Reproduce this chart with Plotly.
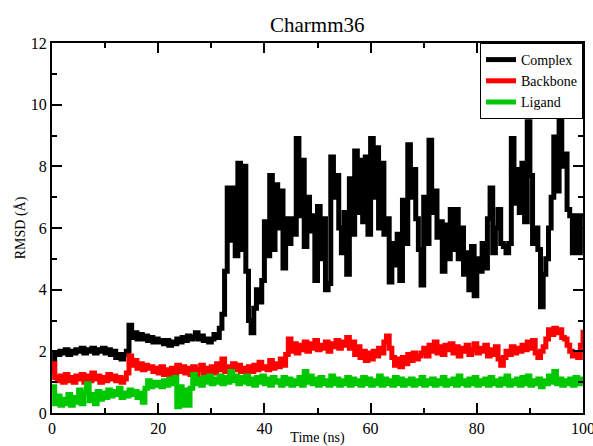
import plotly.graph_objects as go

# Simulation time grid (ns), sampled every 0.5 ns
time_ns = [i * 0.5 for i in range(201)]

# RMSD of the protein-ligand complex (Å)
complex_rmsd = [
    1.35, 1.95, 1.9, 2.0, 1.95, 2.05, 1.9, 2.0, 1.95, 2.05,
    2.0, 2.1, 1.95, 2.05, 2.0, 2.1, 1.95, 2.05, 2.0, 2.1,
    1.95, 2.05, 1.9, 2.0, 1.8, 1.9, 1.75, 1.9, 2.0, 2.85,
    2.45, 2.6, 2.4, 2.55, 2.4, 2.5, 2.35, 2.45, 2.3, 2.4,
    2.3, 2.35, 2.25, 2.35, 2.2, 2.3, 2.25, 2.4, 2.3, 2.45,
    2.35, 2.5, 2.4, 2.45, 2.6, 2.4, 2.5, 2.35, 2.4, 2.3,
    2.4, 2.55, 2.45, 2.75, 3.2, 4.6, 7.3, 5.6, 7.3, 5.1,
    8.1, 5.3, 8.0, 4.6, 3.0, 2.6, 3.4, 4.0, 3.6, 4.3,
    6.2, 5.1, 7.7, 5.3, 7.4, 6.0, 7.2, 4.7, 6.3, 5.5,
    6.3, 5.8, 8.9, 6.4, 8.2, 5.4, 7.0, 5.9, 6.4, 4.3,
    6.7, 5.0, 6.3, 4.0, 4.2, 8.3, 7.0, 7.7, 6.0, 5.2,
    6.5, 4.5, 7.6, 5.8, 8.5, 6.5, 8.2, 6.2, 8.3, 5.8,
    8.9, 7.0, 8.6, 6.0, 8.1, 5.8, 6.3, 4.25, 5.5, 4.8,
    5.8, 4.3, 6.9, 5.5, 8.7, 7.0, 7.9, 6.3, 5.3, 4.15,
    7.0, 5.5, 8.85, 6.5, 7.2, 5.7, 6.2, 4.6, 6.1, 5.0,
    6.6, 5.3, 6.6, 5.0, 6.0, 4.5, 5.2, 4.0, 5.4, 3.8,
    5.0, 4.6, 5.5, 4.7, 6.3, 7.3, 5.2, 6.0, 6.6, 5.5,
    5.4, 5.2, 5.5, 8.9, 6.8, 7.9, 6.5, 8.1, 6.2, 9.45,
    7.7, 5.5, 6.0, 5.3, 3.45, 4.5, 5.0, 6.0, 7.0, 8.95,
    7.2, 9.5, 8.0, 8.4, 6.6, 6.4, 5.2, 6.4, 5.2, 6.4,
    6.4,
]

# RMSD of the protein backbone (Å)
backbone_rmsd = [
    1.6, 1.15, 1.05, 1.2, 1.0, 1.25, 1.05, 1.15, 1.0, 1.2,
    1.1, 1.25, 1.0, 1.2, 1.05, 1.3, 1.1, 1.2, 1.0, 1.15,
    1.05, 1.25, 1.1, 1.2, 1.05, 1.15, 1.0, 1.1, 1.3, 1.85,
    1.55, 1.7, 1.45, 1.6, 1.4, 1.55, 1.45, 1.5, 1.35, 1.45,
    1.3, 1.5, 1.25, 1.4, 1.2, 1.45, 1.3, 1.55, 1.35, 1.5,
    1.3, 1.45, 1.25, 1.5, 1.2, 1.4, 1.55, 1.3, 1.45, 1.35,
    1.5, 1.3, 1.6, 1.4, 1.75, 1.35, 1.5, 1.3, 1.6, 1.4,
    1.55, 1.35, 1.45, 1.3, 1.5, 1.35, 1.55, 1.4, 1.65, 1.45,
    1.5, 1.4, 1.7, 1.45, 1.6, 1.5, 1.75, 1.55, 1.9, 2.4,
    2.0, 2.25, 1.95, 2.2, 2.05, 2.3, 2.0, 2.25, 2.1, 2.35,
    2.05, 2.2, 2.1, 2.3, 2.0, 2.25, 2.15, 2.35, 2.1, 2.3,
    2.2, 2.45, 2.1, 2.3, 1.9, 2.15, 1.8, 2.0, 1.7, 1.95,
    1.75, 2.0, 1.85, 2.1, 1.95, 2.3, 2.5, 2.1, 1.8, 1.55,
    1.75, 1.5, 1.8, 1.6, 1.9, 1.7, 1.95, 1.75, 1.85, 1.95,
    2.1, 1.85, 2.2, 2.0, 2.3, 1.95, 2.15, 1.9, 2.2, 2.05,
    2.25, 1.95, 2.15, 1.85, 2.1, 2.0, 2.2, 1.9, 2.05, 2.25,
    1.95, 2.1, 2.0, 2.2, 1.85, 2.05, 1.9, 2.15, 1.75, 1.55,
    1.8, 2.0, 1.9, 2.15, 1.95, 2.1, 2.0, 2.2, 2.05, 2.3,
    2.1, 2.35, 1.95, 1.8, 2.0, 2.15, 2.4, 2.7, 2.55, 2.75,
    2.6, 2.7, 2.45, 2.4, 2.2, 2.0, 1.85, 1.95, 1.8, 2.2,
    2.7,
]

# RMSD of the ligand (Å)
ligand_rmsd = [
    0.85, 0.3, 0.55, 0.25, 0.45, 0.3, 0.6, 0.25, 0.5, 0.35,
    0.75, 0.3, 0.65, 0.95, 0.4, 0.6, 0.3, 0.7, 0.45, 0.65,
    0.5, 0.75, 0.55, 0.7, 0.6, 0.8, 0.5, 0.65, 0.55, 0.75,
    0.6, 0.7, 0.5, 0.65, 0.35, 0.8, 1.05, 0.85, 1.0, 0.9,
    1.0, 0.85, 1.05, 0.9, 1.1, 0.95, 1.15, 0.2, 0.85, 0.25,
    0.75, 0.25, 0.8, 1.25, 0.95, 1.1, 0.9, 1.15, 1.0, 1.2,
    0.95, 1.1, 1.0, 1.2, 0.95, 1.15, 1.0, 1.35, 1.05, 1.2,
    0.95, 1.15, 1.0, 1.2, 0.95, 1.1, 0.9, 1.15, 1.0, 1.2,
    0.95, 1.1, 0.9, 1.15, 1.0, 1.05, 0.9, 1.15, 0.95, 1.1,
    0.9, 1.05, 0.95, 1.15, 0.9, 1.35, 1.0, 1.2, 0.95, 1.1,
    0.9, 1.15, 0.95, 1.05, 0.9, 1.2, 0.95, 1.1, 0.9, 1.05,
    0.95, 1.15, 0.9, 1.1, 0.95, 1.05, 0.9, 1.15, 0.95, 1.1,
    0.9, 1.05, 0.95, 1.2, 0.9, 1.1, 0.95, 1.05, 0.9, 1.15,
    0.95, 1.1, 0.9, 1.05, 0.95, 1.1, 0.9, 1.05, 0.95, 1.15,
    0.9, 1.05, 0.95, 1.1, 0.9, 1.05, 0.95, 1.15, 0.9, 1.05,
    0.95, 1.1, 0.9, 1.2, 0.95, 1.05, 0.9, 1.1, 0.95, 1.15,
    0.9, 1.05, 0.95, 1.1, 0.9, 1.15, 0.95, 1.05, 0.9, 1.1,
    0.95, 1.2, 0.9, 1.05, 0.95, 1.1, 0.9, 1.15, 0.95, 1.2,
    0.9, 1.05, 0.95, 1.1, 0.85, 1.05, 0.95, 1.2, 1.0, 1.35,
    0.95, 1.1, 0.9, 1.05, 0.95, 1.1, 0.9, 1.15, 0.95, 1.1,
    1.0,
]

series_names = ["Complex", "Backbone", "Ligand"]
series_colors = ["#000000", "#ff0000", "#00c800"]

SERIF = "Liberation Serif, Times New Roman, serif"

fig = go.Figure()
for name, values, color in zip(series_names,
                               [complex_rmsd, backbone_rmsd, ligand_rmsd],
                               series_colors):
    fig.add_trace(go.Scatter(
        x=time_ns, y=values, name=name, mode="lines",
        line=dict(color=color, width=5, shape="hv"),
    ))

axis_common = dict(
    showline=True, linecolor="black", linewidth=2, mirror="allticks",
    ticks="inside", ticklen=10, tickwidth=1.5, tickcolor="black",
    showgrid=False, zeroline=False, automargin=False,
    ticklabeloverflow="allow",
    tickfont=dict(family=SERIF, size=16, color="black"),
)

fig.update_layout(
    width=593, height=446,
    margin=dict(l=52, r=10, t=43, b=33),
    paper_bgcolor="white", plot_bgcolor="white",
    title=dict(text="Charmm36", x=0.535, xanchor="center", y=0.945, yanchor="middle",
               font=dict(family=SERIF, size=21, color="black")),
    xaxis=dict(range=[0, 100], dtick=20, tick0=0,
               minor=dict(ticks="inside", ticklen=5, dtick=10, tickcolor="black", tickwidth=1.5),
               title=dict(text="Time (ns)", standoff=2,
                          font=dict(family=SERIF, size=14, color="black")),
               **axis_common),
    yaxis=dict(range=[0, 12], dtick=2, tick0=0,
               minor=dict(ticks="inside", ticklen=5, dtick=1, tickcolor="black", tickwidth=1.5),
               title=dict(text="RMSD (Å)", standoff=2,
                          font=dict(family=SERIF, size=14, color="black")),
               **axis_common),
    legend=dict(x=1, xanchor="right", y=1, yanchor="top",
                bgcolor="white", bordercolor="black", borderwidth=1,
                font=dict(family=SERIF, size=14, color="black"),
                tracegroupgap=0, itemwidth=30),
    showlegend=True,
)

fig.write_html("out.html")
